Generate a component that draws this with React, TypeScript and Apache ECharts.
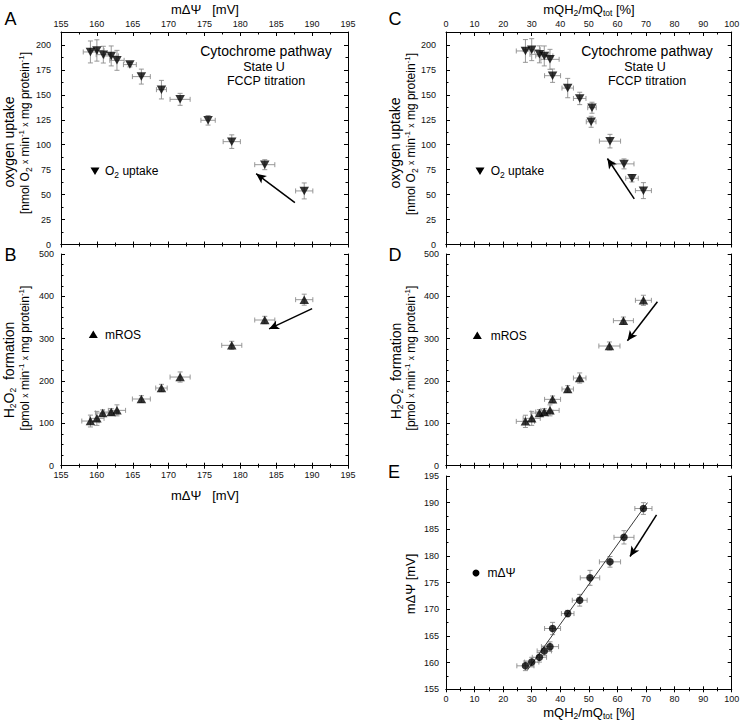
import React, { useEffect, useRef } from "react";
import * as echarts from "echarts";

// ---------- Panel A: oxygen uptake vs mΔΨ ----------
const psiA = [159.1, 160.0, 160.9, 162.0, 162.8, 164.6, 166.2, 169.0, 171.6, 175.5, 178.8, 183.4, 188.9];
const psiErrA = [1.0, 1.0, 1.0, 1.0, 1.0, 0.9, 1.25, 0.7, 1.4, 1.0, 1.2, 1.4, 1.2];
const o2A = [193, 194.5, 190.3, 189, 184.6, 180.3, 168.3, 155.2, 145.5, 124.5, 103.1, 80, 53.7];
const o2ErrA = [11, 10.7, 8.4, 10, 10, 2.3, 7.5, 9.3, 6, 4.8, 6.8, 5, 8];

// ---------- Panel B: H2O2 formation vs mΔΨ ----------
const psiB = [159.1, 160.0, 160.8, 162.0, 162.8, 166.2, 169.0, 171.6, 178.8, 183.4, 188.9];
const psiErrB = [1.2, 1.0, 1.0, 1.0, 1.2, 1.25, 0.8, 1.4, 1.4, 1.4, 1.2];
const h2o2B = [105.5, 111.8, 124.4, 126.8, 130.7, 157.5, 183.5, 209.4, 284.3, 344.1, 392.1];
const h2o2ErrB = [14, 16.5, 7.5, 8, 13, 8, 8.7, 12, 9.5, 8.7, 13];

// ---------- Panel C: oxygen uptake vs mQH2/mQtot ----------
const qC = [27.8, 30.0, 32.7, 34.4, 36.4, 37.3, 42.6, 46.8, 51.1, 50.8, 57.4, 62.3, 65.1, 69.1];
const qErrC = [3.2, 3.0, 3.3, 3.0, 3.2, 2.8, 2.0, 2.2, 1.5, 1.7, 3.7, 3.5, 2.2, 2.8];
const o2C = [194, 195.3, 190.6, 189, 185.6, 169.2, 156.8, 146.4, 137.1, 123, 103.6, 80.8, 66.4, 54];
const o2ErrC = [11.4, 11, 8.5, 10, 10, 6.7, 9.7, 6.2, 5.5, 5.5, 6.8, 5, 3.7, 8];

// ---------- Panel D: H2O2 formation vs mQH2/mQtot ----------
const qD = [27.8, 30.0, 32.7, 34.4, 36.4, 37.3, 42.6, 46.8, 57.2, 62.1, 69.1];
const qErrD = [3.2, 3.0, 3.0, 3.0, 3.2, 2.8, 2.0, 2.2, 3.7, 3.5, 2.8];
const h2o2D = [104.7, 111.8, 124.4, 126.8, 130.7, 156.7, 181.1, 207.1, 282.7, 342.5, 390.6];
const h2o2ErrD = [14.5, 16.5, 8, 8, 13, 8, 8, 12, 9.5, 8.7, 12];

// ---------- Panel E: mΔΨ vs mQH2/mQtot ----------
const qE = [27.8, 30.0, 32.7, 34.4, 36.4, 37.3, 42.6, 46.8, 50.4, 57.4, 62.3, 69.1];
const qErrE = [3.0, 2.5, 2.5, 2.5, 3.0, 2.8, 2.2, 2.6, 3.4, 3.7, 3.5, 3.0];
const psiE = [159.4, 160.1, 161.0, 162.2, 163.0, 166.4, 169.2, 171.7, 175.9, 178.9, 183.5, 188.9];
const psiErrE = [0.9, 0.9, 0.9, 0.9, 0.9, 1.15, 0.6, 1.1, 1.4, 1.0, 1.25, 1.1];
const fitQ = [28.5, 70.5];
const fitPsi = [158.6, 190.0];

// ---------- arrows (data coordinates: tail, head) ----------
const arrowA = [[187.6, 42], [182.2, 71]];
const arrowB = [[190.0, 371], [184.0, 323]];
const arrowC = [[65.9, 45.7], [56.5, 86.2]];
const arrowD = [[74.0, 387.4], [63.5, 295.3]];
const arrowE = [[73.7, 187.7], [64.4, 179.9]];

// ---------- axis ranges [min, max, interval] ----------
const psiRange = [155, 195, 5];
const qRange = [0, 100, 10];
const o2Range = [0, 213, 25];
const h2o2Range = [0, 500, 100];
const psiYRange = [155, 195, 5];

const FONT = "'Liberation Sans', Arial, Helvetica, sans-serif";
const TICKFONT = "'Liberation Sans Narrow', 'Arial Narrow', 'Liberation Sans', Arial, sans-serif";

const rects = [
  { left: 61, top: 32, width: 287, height: 212.5 }, // A
  { left: 61, top: 254, width: 287, height: 211.7 }, // B
  { left: 446, top: 32, width: 285.7, height: 212.5 }, // C
  { left: 446, top: 254, width: 285.7, height: 211.7 }, // D
  { left: 446, top: 476, width: 285.7, height: 213.3 }, // E
];

function axisBase(gridIndex: number, range: number[], split: number, position: string, inside: boolean, len: number) {
  return {
    type: "value",
    gridIndex,
    position,
    min: range[0],
    max: range[1],
    interval: range[2],
    splitLine: { show: false },
    axisLine: { show: true, onZero: false, lineStyle: { color: "#000", width: 1 } },
    axisTick: { show: true, inside, length: len, lineStyle: { color: "#000", width: 1 } },
    minorTick: { show: true, splitNumber: split, length: Math.max(2, len - 1.5), lineStyle: { color: "#000", width: 1 } },
    minorSplitLine: { show: false },
    axisLabel: { show: false },
  };
}

function withLabels(ax: any, margin: number, step: number) {
  return {
    ...ax,
    axisLabel: {
      show: true,
      margin,
      fontSize: 9,
      fontFamily: TICKFONT,
      color: "#111",
      showMaxLabel: true,
      formatter: (v: number) => (Math.abs(v / step - Math.round(v / step)) < 1e-6 ? String(v) : ""),
    },
  };
}

const errRender = (params: any, api: any) => {
  const x = api.value(0);
  const y = api.value(1);
  const ex = api.value(2);
  const ey = api.value(3);
  const l = api.coord([x - ex, y]);
  const r = api.coord([x + ex, y]);
  const t = api.coord([x, y + ey]);
  const b = api.coord([x, y - ey]);
  const c = 2.5;
  const st = { stroke: "#8c8c8c", lineWidth: 0.9 };
  const ln = (x1: number, y1: number, x2: number, y2: number) => ({ type: "line", shape: { x1, y1, x2, y2 }, style: st });
  return {
    type: "group",
    children: [
      ln(l[0], l[1], r[0], r[1]),
      ln(l[0], l[1] - c, l[0], l[1] + c),
      ln(r[0], r[1] - c, r[0], r[1] + c),
      ln(t[0], t[1], b[0], b[1]),
      ln(t[0] - c, t[1], t[0] + c, t[1]),
      ln(b[0] - c, b[1], b[0] + c, b[1]),
    ],
  };
};

function errSeries(xi: number, yi: number, xs: number[], ys: number[], exs: number[], eys: number[]) {
  return {
    type: "custom",
    xAxisIndex: xi,
    yAxisIndex: yi,
    renderItem: errRender,
    data: xs.map((x, i) => [x, ys[i], exs[i], eys[i]]),
    encode: { x: 0, y: 1 },
    silent: true,
    z: 2,
  };
}

function arrowLine(a: number[][]) {
  return {
    silent: true,
    symbol: ["none", "arrow"],
    symbolSize: [7, 10],
    lineStyle: { color: "#000", width: 1.5, type: "solid" },
    label: { show: false },
    emphasis: { disabled: true },
    data: [[{ coord: a[0] }, { coord: a[1] }]],
  };
}

function pointSeries(xi: number, yi: number, xs: number[], ys: number[], symbol: string, rotate: number, size: any, arrow: number[][]) {
  return {
    type: "scatter",
    xAxisIndex: xi,
    yAxisIndex: yi,
    data: xs.map((x, i) => [x, ys[i]]),
    symbol,
    symbolRotate: rotate,
    symbolSize: size,
    itemStyle: { color: "#000" },
    z: 5,
    silent: true,
    markLine: arrowLine(arrow),
  };
}

const rich = {
  s: { fontSize: 8.5, fontFamily: FONT, fill: "#000", verticalAlign: "bottom", lineHeight: 9 },
  p: { fontSize: 8, fontFamily: FONT, fill: "#000", verticalAlign: "top", lineHeight: 9 },
  x: { fontSize: 8.5, fontFamily: FONT, fill: "#000", lineHeight: 9 },
};

function text(x: number, y: number, t: string, size: number, extra: any = {}) {
  return {
    type: "text",
    x,
    y,
    rotation: extra.rotation || 0,
    silent: true,
    style: {
      text: t,
      fontSize: size,
      fontFamily: FONT,
      fill: "#000",
      align: extra.align || "center",
      verticalAlign: "middle",
      lineHeight: 16,
      rich,
    },
  };
}

const R = Math.PI / 2;

export default function App() {
  const ref = useRef<HTMLDivElement>(null);
  useEffect(() => {
    if (!ref.current) return;
    const chart = echarts.init(ref.current, null, { renderer: "svg" });
    const grids = [...rects, ...rects].map((r) => ({ ...r, containLabel: false, outerBoundsMode: "none" }));

    const xAxis = [
      withLabels(axisBase(0, psiRange, 2, "top", true, 4), 4, 5), // 0 A top
      axisBase(0, psiRange, 2, "bottom", true, 3), // 1 A bottom
      withLabels(axisBase(1, psiRange, 2, "bottom", true, 3), 5, 5), // 2 B bottom
      withLabels(axisBase(2, qRange, 2, "top", true, 4), 4, 10), // 3 C top
      axisBase(2, qRange, 2, "bottom", true, 3), // 4 C bottom
      axisBase(3, qRange, 2, "bottom", true, 3), // 5 D bottom
      withLabels(axisBase(4, qRange, 2, "bottom", true, 3), 5, 10), // 6 E bottom
      axisBase(5, psiRange, 2, "bottom", false, 3), // 7 A out
      axisBase(6, psiRange, 2, "bottom", false, 3), // 8 B out
      axisBase(7, qRange, 2, "bottom", false, 3), // 9 C out
      axisBase(8, qRange, 2, "bottom", false, 3), // 10 D out
      axisBase(9, qRange, 2, "bottom", false, 3), // 11 E out
    ];
    const yAxis: any[] = [
      withLabels(axisBase(0, o2Range, 2, "left", true, 4), 10, 25),
      axisBase(0, o2Range, 2, "right", true, 4),
      withLabels(axisBase(1, h2o2Range, 4, "left", true, 4), 7, 100),
      axisBase(1, h2o2Range, 4, "right", true, 4),
      withLabels(axisBase(2, o2Range, 2, "left", true, 4), 10, 25),
      axisBase(2, o2Range, 2, "right", true, 4),
      withLabels(axisBase(3, h2o2Range, 4, "left", true, 4), 7, 100),
      axisBase(3, h2o2Range, 4, "right", true, 4),
      withLabels(axisBase(4, psiYRange, 2, "left", true, 4), 7, 5),
      axisBase(4, psiYRange, 2, "right", true, 4),
    ];
    for (let g = 5; g < 10; g++) yAxis.push({ type: "value", gridIndex: g, show: false, min: 0, max: 1 });

    const triDown = (cx: number, cy: number) => ({
      type: "polygon",
      silent: true,
      shape: { points: [[cx - 4.5, cy - 3.5], [cx + 4.5, cy - 3.5], [cx, cy + 4]] },
      style: { fill: "#000" },
    });
    const triUp = (cx: number, cy: number) => ({
      type: "polygon",
      silent: true,
      shape: { points: [[cx - 4.5, cy + 3.5], [cx + 4.5, cy + 3.5], [cx, cy - 4]] },
      style: { fill: "#000" },
    });

    const graphic = [
      // panel letters
      text(10.5, 19, "A", 18),
      text(10.5, 255, "B", 18),
      text(395, 19, "C", 18),
      text(395, 255, "D", 18),
      text(394, 472, "E", 18),
      // top axis titles
      text(205, 9, "mΔΨ   [mV]", 13),
      text(589, 9, "mQH{s|2}/mQ{s|tot} [%]", 13),
      // bottom axis titles
      text(205, 495, "mΔΨ   [mV]", 13),
      text(589, 712, "mQH{s|2}/mQ{s|tot} [%]", 13),
      // y axis titles
      text(9, 142, "oxygen uptake", 14, { rotation: R }),
      text(25, 133, "[nmol O{s|2} {x|x} min{p|-1} {x|x} mg protein{p|-1}]", 12, { rotation: R }),
      text(9, 370, "H{s|2}O{s|2}  formation", 14, { rotation: R }),
      text(25, 358, "[pmol {x|x} min{p|-1} {x|x} mg protein{p|-1}]", 12, { rotation: R }),
      text(395, 143, "oxygen uptake", 14, { rotation: R }),
      text(411, 134, "[nmol O{s|2} {x|x} min{p|-1} {x|x} mg protein{p|-1}]", 12, { rotation: R }),
      text(396, 371, "H{s|2}O{s|2}  formation", 14, { rotation: R }),
      text(411, 358, "[pmol {x|x} min{p|-1} {x|x} mg protein{p|-1}]", 12, { rotation: R }),
      text(410, 584, "mΔΨ [mV]", 13, { rotation: R }),
      // annotations
      text(266, 51, "Cytochrome pathway", 14),
      text(264, 66.7, "State U", 12.5),
      text(266, 81, "FCCP titration", 12.5),
      text(647, 51, "Cytochrome pathway", 14),
      text(645, 66.7, "State U", 12.5),
      text(647, 81, "FCCP titration", 12.5),
      // legends
      triDown(95, 171),
      text(105, 171, "O{s|2} uptake", 12, { align: "left" }),
      triDown(480, 171),
      text(490.7, 171, "O{s|2} uptake", 12, { align: "left" }),
      triUp(93.3, 334.5),
      text(105, 334.5, "mROS", 12, { align: "left" }),
      triUp(477.3, 335.5),
      text(490.7, 335.5, "mROS", 12, { align: "left" }),
      { type: "circle", silent: true, shape: { cx: 476, cy: 573, r: 3.5 }, style: { fill: "#000" } },
      text(487.5, 573, "mΔΨ", 12, { align: "left" }),
    ];

    const series: any[] = [
      errSeries(0, 0, psiA, o2A, psiErrA, o2ErrA),
      pointSeries(0, 0, psiA, o2A, "triangle", 180, [9.5, 8.5], arrowA),
      errSeries(2, 2, psiB, h2o2B, psiErrB, h2o2ErrB),
      pointSeries(2, 2, psiB, h2o2B, "triangle", 0, [9.5, 8.5], arrowB),
      errSeries(3, 4, qC, o2C, qErrC, o2ErrC),
      pointSeries(3, 4, qC, o2C, "triangle", 180, [9.5, 8.5], arrowC),
      errSeries(5, 6, qD, h2o2D, qErrD, h2o2ErrD),
      pointSeries(5, 6, qD, h2o2D, "triangle", 0, [9.5, 8.5], arrowD),
      {
        type: "line",
        xAxisIndex: 6,
        yAxisIndex: 8,
        data: fitQ.map((x, i) => [x, fitPsi[i]]),
        symbol: "none",
        silent: true,
        lineStyle: { color: "#222", width: 0.9 },
        z: 3,
      },
      errSeries(6, 8, qE, psiE, qErrE, psiErrE),
      pointSeries(6, 8, qE, psiE, "circle", 0, 7.5, arrowE),
    ];

    chart.setOption({
      animation: false,
      backgroundColor: "#fff",
      textStyle: { fontFamily: FONT },
      grid: grids,
      xAxis,
      yAxis,
      series,
      graphic,
    });
    return () => chart.dispose();
  }, []);
  return <div ref={ref} style={{ position: "absolute", left: 0, top: 0, width: 740, height: 720 }} />;
}
